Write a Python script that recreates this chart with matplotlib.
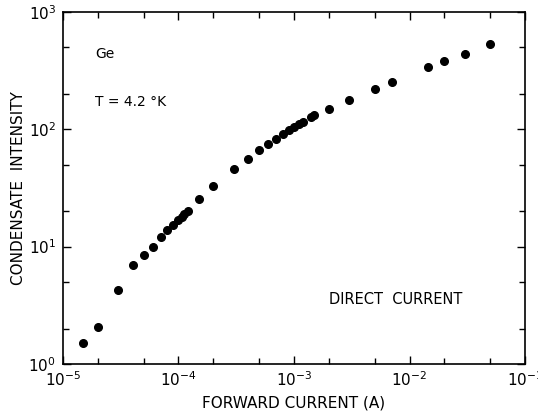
import numpy as np
import matplotlib
matplotlib.use("Agg")
import matplotlib.pyplot as plt
from matplotlib.ticker import LogLocator, NullFormatter

# forward current (A) and condensate intensity
current = [1.5e-5, 2e-5, 3e-5, 4e-5, 5e-5, 6e-5, 7e-5, 8e-5, 9e-5, 1e-4,
           1.07e-4, 1.12e-4, 1.2e-4, 1.5e-4, 2e-4, 3e-4, 4e-4, 5e-4, 6e-4,
           7e-4, 8e-4, 9e-4, 1e-3, 1.1e-3, 1.2e-3, 1.4e-3, 1.5e-3, 2e-3,
           3e-3, 5e-3, 7e-3, 1.45e-2, 2e-2, 3e-2, 5e-2]
intensity = [1.5, 2.05, 4.3, 6.9, 8.4, 10.0, 12.1, 13.9, 15.3, 16.7,
             17.7, 19.0, 20.2, 25.5, 33, 46, 56, 67, 75,
             83, 91, 99, 104, 111, 116, 128, 133, 150,
             178, 220, 252, 338, 383, 442, 535]

fig = plt.figure(figsize=(5.38, 4.13), dpi=100)
ax = fig.add_axes([0.117, 0.119, 0.859, 0.852])

ax.plot(current, intensity, 'o', color='black', markersize=5.5)

ax.set_xscale('log')
ax.set_yscale('log')
ax.set_xlim(1e-5, 1e-1)
ax.set_ylim(1e0, 1e3)

for axis in (ax.xaxis, ax.yaxis):
    axis.set_major_locator(LogLocator(base=10))
    axis.set_minor_locator(LogLocator(base=10, subs=(2, 5)))
    axis.set_minor_formatter(NullFormatter())

ax.tick_params(which='both', direction='in', top=True, right=True,
               width=1, labelsize=11, colors='black')
ax.tick_params(which='major', length=6, pad=5)
ax.tick_params(which='minor', length=4)
for s in ax.spines.values():
    s.set_linewidth(1.2)

ax.set_xlabel('FORWARD CURRENT (A)', fontsize=11, labelpad=4)
ax.set_ylabel('CONDENSATE  INTENSITY', fontsize=11, labelpad=2)

ax.text(0.07, 0.88, 'Ge', transform=ax.transAxes, fontsize=10, va='center')
ax.text(0.07, 0.745, 'T = 4.2 °K', transform=ax.transAxes, fontsize=10, va='center')
ax.text(0.575, 0.182, 'DIRECT  CURRENT', transform=ax.transAxes, fontsize=10.5,
        va='center')

fig.savefig('out.png', dpi=100)
